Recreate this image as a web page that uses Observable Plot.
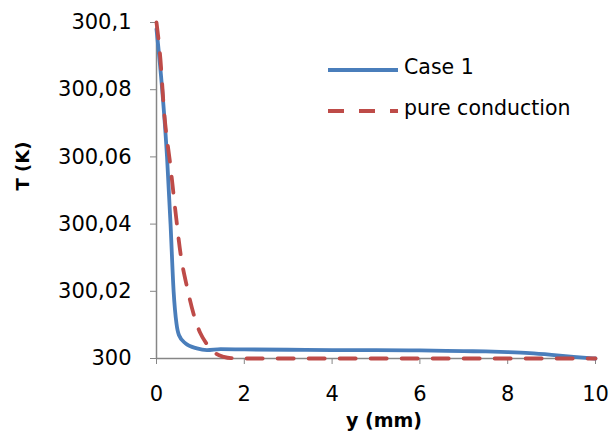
<!DOCTYPE html>
<html>
<head>
<meta charset="utf-8">
<script src="https://cdn.jsdelivr.net/npm/d3@7"></script>
<script src="https://cdn.jsdelivr.net/npm/@observablehq/plot@0.6"></script>
<style>
  html, body { margin: 0; padding: 0; background: #fff; }
  #wrap { position: relative; width: 611px; height: 432px; overflow: hidden; }
  #legend { position: absolute; left: 327px; top: 52px; font-family: "DejaVu Sans", sans-serif; font-size: 20.5px; color: #000; }
  #legend .row { position: absolute; left: 0; white-space: nowrap; height: 30px; }
  #legend svg { position: absolute; left: 0; top: 0; }
  #legend span { position: absolute; left: 77px; top: 3px; }
</style>
</head>
<body>
<div id="wrap">
  <div id="chart"></div>
  <div id="legend"></div>
</div>
<script>
// Series: Case 1
const case1Y = [0, 0.13, 0.24, 0.32, 0.39, 0.455, 0.51, 0.66, 0.92, 1.15, 1.46, 2, 3, 4, 5, 6, 7, 7.5, 8, 8.5, 9, 9.5, 10];
const case1T = [300.098, 300.080, 300.060, 300.040, 300.020, 300.0104, 300.007, 300.0045, 300.003, 300.0025, 300.0028, 300.0027, 300.0026, 300.0025, 300.0025, 300.0024, 300.0022, 300.0021, 300.0019, 300.0016, 300.0011, 300.0005, 300.0];
// Series: pure conduction
const condY = [0, 0.09, 0.17, 0.32, 0.43, 0.55, 0.7, 0.85, 1.0, 1.12, 1.23, 1.35, 1.53, 1.7, 2, 4, 6, 8, 10];
const condT = [300.1, 300.089, 300.074, 300.057, 300.044, 300.031, 300.021, 300.013, 300.0075, 300.0048, 300.003, 300.0015, 300.0005, 300.0001, 300, 300, 300, 300, 300];
// Ticks
const xTicks = [0, 2, 4, 6, 8, 10];
const yTicks = [300, 300.02, 300.04, 300.06, 300.08, 300.1];
const yTickLabels = ["300", "300,02", "300,04", "300,06", "300,08", "300,1"];
const seriesNames = ["Case 1", "pure conduction"];
const seriesColors = ["#4A7EBB", "#BE4B48"];

const case1 = case1Y.map((y, i) => ({y, T: case1T[i]}));
const cond = condY.map((y, i) => ({y, T: condT[i]}));

const axisColor = "#868686";

const chart = Plot.plot({
  width: 611,
  height: 432,
  marginLeft: 156,
  marginRight: 16,
  marginTop: 22,
  marginBottom: 74,
  style: { fontFamily: "DejaVu Sans, sans-serif", fontSize: "21px", color: "#000", background: "#fff" },
  x: { domain: [0, 10], ticks: xTicks, label: null },
  y: { domain: [300, 300.1], ticks: yTicks, label: null },
  marks: [
    Plot.axisX({ticks: xTicks, tickSize: 6, tickPadding: 22, stroke: axisColor, tickFormat: d => String(d), fill: "#000", label: null}),
    Plot.axisY({ticks: yTicks, tickSize: 6, tickPadding: 19, stroke: axisColor, tickFormat: d => yTickLabels[yTicks.indexOf(d)], fill: "#000", label: null}),
    Plot.ruleX([0], {stroke: axisColor, strokeWidth: 1.5}),
    Plot.ruleY([300], {stroke: axisColor, strokeWidth: 1.5}),
    Plot.line(case1, {x: "y", y: "T", stroke: seriesColors[0], strokeWidth: 3.8, curve: "monotone-x"}),
    Plot.line(cond, {x: "y", y: "T", stroke: seriesColors[1], strokeWidth: 3.8, strokeDasharray: "16,15", curve: "monotone-x"}),
    Plot.text(["y (mm)"], {frameAnchor: "bottom", dy: 62, fontWeight: "bold", fontSize: 19, dx: 8, lineAnchor: "middle"}),
    Plot.text(["T (K)"], {frameAnchor: "left", dx: -133, rotate: -90, fontWeight: "bold", fontSize: 18, lineAnchor: "middle"})
  ]
});
document.getElementById("chart").appendChild(chart);

// Legend
const legend = document.getElementById("legend");
seriesNames.forEach((name, i) => {
  const row = document.createElement("div");
  row.className = "row";
  row.style.top = (i * 41) + "px";
  const dash = i === 1 ? ' stroke-dasharray="16,15"' : '';
  row.innerHTML = `<svg width="75" height="30"><line x1="1" y1="18" x2="71" y2="18" stroke="${seriesColors[i]}" stroke-width="3.8"${dash}/></svg><span>${name}</span>`;
  legend.appendChild(row);
});
</script>
</body>
</html>
